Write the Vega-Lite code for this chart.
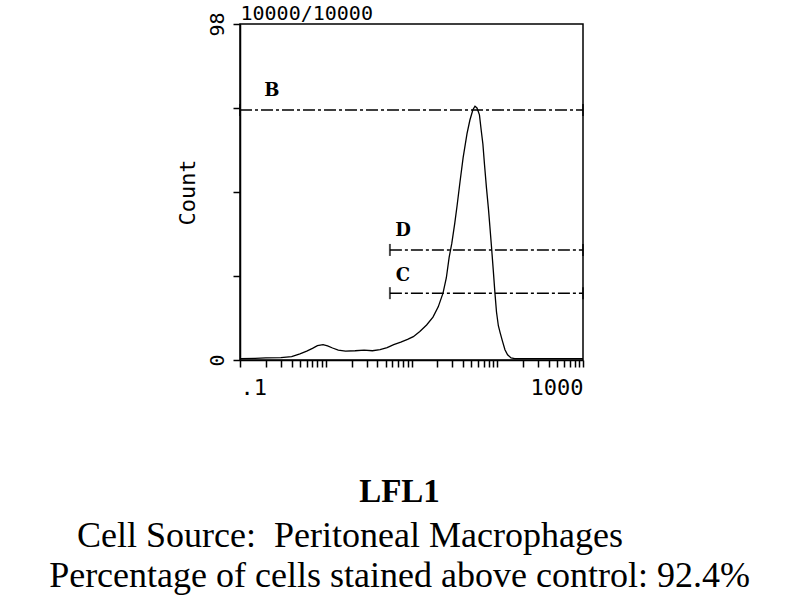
{
  "$schema": "https://vega.github.io/schema/vega-lite/v6.json",
  "width": 343,
  "height": 336,
  "autosize": {"type": "none"},
  "padding": {"left": 240, "top": 24, "right": 217, "bottom": 240},
  "background": "white",
  "config": {
    "view": {"stroke": "black", "strokeWidth": 1.5},
    "axis": {"domainColor": "black", "domainWidth": 1.5, "tickColor": "black", "labelColor": "black", "titleColor": "black", "grid": false, "labelFont": "DejaVu Sans Mono", "titleFont": "DejaVu Sans Mono", "titleFontWeight": "normal"}
  },
  "title": {
    "text": "LFL1",
    "subtitle": ["Cell Source:\u00a0\u00a0Peritoneal Macrophages\u00a0\u00a0\u00a0\u00a0\u00a0\u00a0\u00a0\u00a0\u00a0\u00a0\u00a0\u200b", "Percentage of cells stained above control: 92.4%"],
    "orient": "bottom",
    "anchor": "middle",
    "frame": "group",
    "dx": -12,
    "offset": 78,
    "font": "Liberation Serif",
    "fontSize": 33,
    "fontWeight": "bold",
    "color": "black",
    "subtitleFont": "Liberation Serif",
    "subtitleFontSize": 36,
    "subtitleColor": "black",
    "subtitlePadding": 10,
    "subtitleLineHeight": 40
  },
  "datasets": {
    "hist": [
      {"fl": 0.1, "count": 0.4}, {"fl": 0.15, "count": 0.5}, {"fl": 0.2, "count": 0.6}, {"fl": 0.3, "count": 0.7},
      {"fl": 0.4, "count": 1.0}, {"fl": 0.5, "count": 1.8}, {"fl": 0.6, "count": 2.6}, {"fl": 0.7, "count": 3.4},
      {"fl": 0.8, "count": 4.2}, {"fl": 0.93, "count": 4.5}, {"fl": 1.05, "count": 4.1}, {"fl": 1.2, "count": 3.5},
      {"fl": 1.4, "count": 2.9}, {"fl": 1.7, "count": 2.6}, {"fl": 2.2, "count": 2.7}, {"fl": 2.8, "count": 2.9},
      {"fl": 3.5, "count": 2.7}, {"fl": 4.3, "count": 3.0}, {"fl": 5.2, "count": 3.6}, {"fl": 6.2, "count": 4.5},
      {"fl": 7.5, "count": 5.2}, {"fl": 9, "count": 6.0}, {"fl": 10.5, "count": 6.8}, {"fl": 12.5, "count": 8.3},
      {"fl": 15, "count": 10.2}, {"fl": 17.8, "count": 12.5}, {"fl": 20.5, "count": 15.5}, {"fl": 23.3, "count": 19.5},
      {"fl": 25.5, "count": 24}, {"fl": 27.5, "count": 30}, {"fl": 29.5, "count": 34}, {"fl": 32, "count": 40},
      {"fl": 34, "count": 45}, {"fl": 36.8, "count": 52}, {"fl": 40, "count": 59}, {"fl": 44.4, "count": 66},
      {"fl": 48, "count": 70}, {"fl": 52, "count": 73}, {"fl": 55, "count": 74}, {"fl": 58, "count": 73.5},
      {"fl": 62, "count": 71.5}, {"fl": 65, "count": 67}, {"fl": 68, "count": 63}, {"fl": 71, "count": 57},
      {"fl": 75, "count": 50}, {"fl": 79, "count": 44}, {"fl": 82, "count": 39}, {"fl": 86, "count": 32.5},
      {"fl": 90, "count": 26}, {"fl": 94, "count": 19.5}, {"fl": 98, "count": 14}, {"fl": 103, "count": 10},
      {"fl": 108, "count": 8}, {"fl": 115, "count": 5.5}, {"fl": 123, "count": 3}, {"fl": 132, "count": 1.5},
      {"fl": 145, "count": 0.6}, {"fl": 160, "count": 0.4}, {"fl": 300, "count": 0.4}, {"fl": 1000, "count": 0.4}
    ],
    "gates": [
      {"gate": "B", "start": 0.1, "end": 1000, "level": 72.9, "labelX": 0.236, "labelY": 78.5},
      {"gate": "D", "start": 5.6, "end": 1000, "level": 32.1, "labelX": 7.96, "labelY": 37.5},
      {"gate": "C", "start": 5.6, "end": 1000, "level": 19.5, "labelX": 7.96, "labelY": 24.6}
    ]
  },
  "layer": [
    {
      "data": {"name": "hist"},
      "mark": {"type": "line", "color": "black", "strokeWidth": 1.3},
      "encoding": {
        "x": {
          "field": "fl", "type": "quantitative",
          "scale": {"type": "log", "domain": [0.1, 1000], "nice": false},
          "axis": {
            "orient": "bottom", "title": null,
            "values": [0.1, 0.2, 0.3, 0.4, 0.5, 0.6, 0.7, 0.8, 0.9, 1, 2, 3, 4, 5, 6, 7, 8, 9, 10, 20, 30, 40, 50, 60, 70, 80, 90, 100, 200, 300, 400, 500, 600, 700, 800, 900, 1000],
            "labelExpr": "datum.value == 0.1 ? '.1' : (datum.value == 1000 ? '1000' : '')",
            "labelFlush": true, "labelOverlap": false, "labelFontSize": 22, "labelPadding": 10,
            "tickSize": 7, "tickWidth": 1.5
          }
        },
        "y": {
          "field": "count", "type": "quantitative", "title": "Count",
          "scale": {"domain": [0, 98], "nice": false, "zero": false},
          "axis": {
            "values": [0, 24.5, 49, 73.5, 98],
            "labelExpr": "datum.value == 0 ? '0' : (datum.value == 98 ? '98' : '')",
            "labelAngle": -90, "labelFlush": true, "labelOverlap": false, "labelFontSize": 20, "labelPadding": 6,
            "tickSize": 7, "tickWidth": 1.5, "titleFontSize": 22, "titlePadding": 8
          }
        }
      }
    },
    {
      "data": {"name": "gates"},
      "mark": {"type": "rule", "color": "black", "strokeWidth": 1.5, "strokeDash": [12, 3, 3, 3]},
      "encoding": {
        "x": {
          "field": "start", "type": "quantitative",
          "axis": {"orient": "top", "title": "10000/10000", "titleAnchor": "start", "titleAlign": "left", "titleFontSize": 20, "titlePadding": 1, "labels": false, "ticks": false, "domain": false}
        },
        "x2": {"field": "end"},
        "y": {"field": "level", "type": "quantitative", "title": "Count"}
      }
    },
    {
      "data": {"name": "gates"},
      "mark": {"type": "tick", "orient": "vertical", "color": "black", "thickness": 2, "size": 12},
      "encoding": {
        "x": {"field": "start", "type": "quantitative", "axis": null},
        "y": {"field": "level", "type": "quantitative", "title": "Count"}
      }
    },
    {
      "data": {"name": "gates"},
      "mark": {"type": "tick", "orient": "vertical", "color": "black", "thickness": 2, "size": 12},
      "encoding": {
        "x": {"field": "end", "type": "quantitative", "axis": null},
        "y": {"field": "level", "type": "quantitative", "title": "Count"}
      }
    },
    {
      "data": {"name": "gates"},
      "mark": {"type": "text", "color": "black", "font": "DejaVu Serif", "fontSize": 18, "fontWeight": "bold", "align": "center", "baseline": "middle"},
      "encoding": {
        "x": {"field": "labelX", "type": "quantitative", "axis": null},
        "y": {"field": "labelY", "type": "quantitative", "title": "Count"},
        "text": {"field": "gate"}
      }
    }
  ],
  "resolve": {"axis": {"x": "independent"}}
}
